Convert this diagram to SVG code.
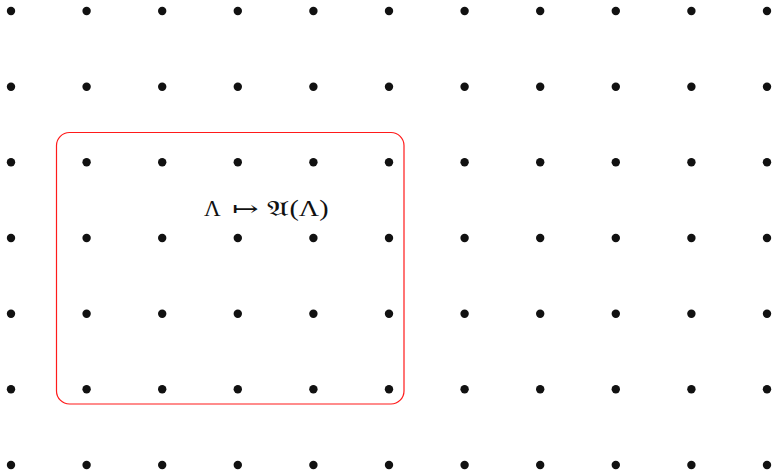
<svg xmlns="http://www.w3.org/2000/svg" width="773" height="470" viewBox="0 0 773 470">
<style>
.d{fill:#111}
.t{font-family:"Liberation Serif","DejaVu Serif",serif;font-size:23px;fill:#111}
.s{font-family:"DejaVu Serif","DejaVu Sans",serif;font-size:21px;fill:#111}
</style>
<defs><circle id="p" r="4.2" class="d"/></defs>
<rect width="773" height="470" fill="#fff"/>
<g id="grid">
<g id="r0"><use href="#p" x="11" y="11"/><use href="#p" x="86.6" y="11"/><use href="#p" x="162.2" y="11"/><use href="#p" x="237.8" y="11"/><use href="#p" x="313.4" y="11"/><use href="#p" x="389" y="11"/><use href="#p" x="464.6" y="11"/><use href="#p" x="540.2" y="11"/><use href="#p" x="615.8" y="11"/><use href="#p" x="691.4" y="11"/><use href="#p" x="767" y="11"/></g>
<g id="r1"><use href="#p" x="11" y="86.7"/><use href="#p" x="86.6" y="86.7"/><use href="#p" x="162.2" y="86.7"/><use href="#p" x="237.8" y="86.7"/><use href="#p" x="313.4" y="86.7"/><use href="#p" x="389" y="86.7"/><use href="#p" x="464.6" y="86.7"/><use href="#p" x="540.2" y="86.7"/><use href="#p" x="615.8" y="86.7"/><use href="#p" x="691.4" y="86.7"/><use href="#p" x="767" y="86.7"/></g>
<g id="r2"><use href="#p" x="11" y="162.3"/><use href="#p" x="86.6" y="162.3"/><use href="#p" x="162.2" y="162.3"/><use href="#p" x="237.8" y="162.3"/><use href="#p" x="313.4" y="162.3"/><use href="#p" x="389" y="162.3"/><use href="#p" x="464.6" y="162.3"/><use href="#p" x="540.2" y="162.3"/><use href="#p" x="615.8" y="162.3"/><use href="#p" x="691.4" y="162.3"/><use href="#p" x="767" y="162.3"/></g>
<g id="r3"><use href="#p" x="11" y="238"/><use href="#p" x="86.6" y="238"/><use href="#p" x="162.2" y="238"/><use href="#p" x="237.8" y="238"/><use href="#p" x="313.4" y="238"/><use href="#p" x="389" y="238"/><use href="#p" x="464.6" y="238"/><use href="#p" x="540.2" y="238"/><use href="#p" x="615.8" y="238"/><use href="#p" x="691.4" y="238"/><use href="#p" x="767" y="238"/></g>
<g id="r4"><use href="#p" x="11" y="313.7"/><use href="#p" x="86.6" y="313.7"/><use href="#p" x="162.2" y="313.7"/><use href="#p" x="237.8" y="313.7"/><use href="#p" x="313.4" y="313.7"/><use href="#p" x="389" y="313.7"/><use href="#p" x="464.6" y="313.7"/><use href="#p" x="540.2" y="313.7"/><use href="#p" x="615.8" y="313.7"/><use href="#p" x="691.4" y="313.7"/><use href="#p" x="767" y="313.7"/></g>
<g id="r5"><use href="#p" x="11" y="389.3"/><use href="#p" x="86.6" y="389.3"/><use href="#p" x="162.2" y="389.3"/><use href="#p" x="237.8" y="389.3"/><use href="#p" x="313.4" y="389.3"/><use href="#p" x="389" y="389.3"/><use href="#p" x="464.6" y="389.3"/><use href="#p" x="540.2" y="389.3"/><use href="#p" x="615.8" y="389.3"/><use href="#p" x="691.4" y="389.3"/><use href="#p" x="767" y="389.3"/></g>
<g id="r6"><use href="#p" x="11" y="465"/><use href="#p" x="86.6" y="465"/><use href="#p" x="162.2" y="465"/><use href="#p" x="237.8" y="465"/><use href="#p" x="313.4" y="465"/><use href="#p" x="389" y="465"/><use href="#p" x="464.6" y="465"/><use href="#p" x="540.2" y="465"/><use href="#p" x="615.8" y="465"/><use href="#p" x="691.4" y="465"/><use href="#p" x="767" y="465"/></g>
</g>
<g id="region">
<rect x="56.5" y="132.5" width="347.5" height="271.5" rx="13" ry="13" fill="none" stroke="#ff1a1a" stroke-width="1.2"/>
<text class="t" x="204" y="215.5">Λ</text>
<text class="s" x="232" y="215.5" textLength="26.5" lengthAdjust="spacingAndGlyphs">↦</text>
<text class="s" x="266.5" y="215.5" textLength="22" lengthAdjust="spacingAndGlyphs">𝔄</text>
<text class="t" x="289.5" y="215.5" textLength="39" lengthAdjust="spacingAndGlyphs">(Λ)</text>
</g>
<g id="connectors"/>
</svg>
